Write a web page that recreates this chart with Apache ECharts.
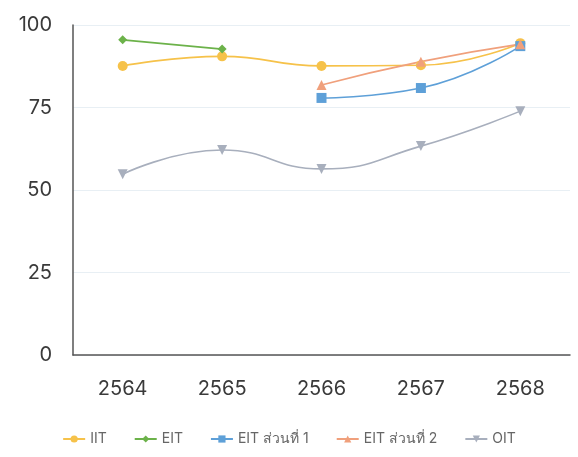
<!DOCTYPE html>
<html>
<head>
<meta charset="utf-8">
<script src="https://cdn.jsdelivr.net/npm/echarts@6/dist/echarts.min.js"></script>
<style>
  html, body { margin: 0; padding: 0; background: #fff; }
  #chart { width: 578px; height: 457px; }
</style>
</head>
<body>
<div id="chart"></div>
<script>
const years = ["2564", "2565", "2566", "2567", "2568"];
const iit = [87.6, 90.5, 87.6, 87.8, 94.5];
const eit = [95.5, 92.7, null, null, null];
const eitPart1 = [null, null, 77.9, 80.9, 93.6];
const eitPart2 = [null, null, 81.8, 88.9, 94.2];
const oit = [54.8, 62.1, 56.4, 63.3, 73.9];
const yTicks = [0, 25, 50, 75, 100];

const chart = echarts.init(document.getElementById("chart"));

function line(name, data, color, symbol, size) {
  return {
    name, type: "line", data, smooth: true, connectNulls: false,
    symbol, symbolSize: size,
    lineStyle: { color, width: 1.6 },
    itemStyle: { color },
  };
}

chart.setOption({
  animation: false,
  textStyle: { fontFamily: "Inter, 'Noto Sans', sans-serif" },
  grid: { left: 73, right: 8, top: 25, bottom: 102 },
  xAxis: {
    type: "category", data: years, boundaryGap: true,
    axisLine: { lineStyle: { color: "#555", width: 1.5 } },
    axisTick: { show: false },
    axisLabel: { color: "#3a3a3a", fontSize: 20, margin: 24 },
    splitLine: { show: false },
  },
  yAxis: {
    type: "value", min: yTicks[0], max: yTicks[yTicks.length - 1], interval: 25,
    axisLine: { show: true, lineStyle: { color: "#555", width: 1.5 } },
    axisTick: { show: false },
    axisLabel: { color: "#3a3a3a", fontSize: 20, margin: 21 },
    splitLine: { lineStyle: { color: "#e8eff4", width: 1 } },
  },
  legend: {
    bottom: 6, left: "center", itemWidth: 22, itemHeight: 9, itemGap: 27,
    textStyle: { color: "#666", fontSize: 14 },
  },
  series: [
    line("IIT", iit, "#f6c24a", "circle", 10),
    line("EIT", eit, "#6cb24a", "diamond", 9),
    line("EIT ส่วนที่ 1", eitPart1, "#5ea0d8", "rect", 10),
    line("EIT ส่วนที่ 2", eitPart2, "#f0a07c", "triangle", 10),
    line("OIT", oit, "#a8afbd", "path://M0,0 L10,0 L5,10 Z", 10),
  ],
});
</script>
</body>
</html>
